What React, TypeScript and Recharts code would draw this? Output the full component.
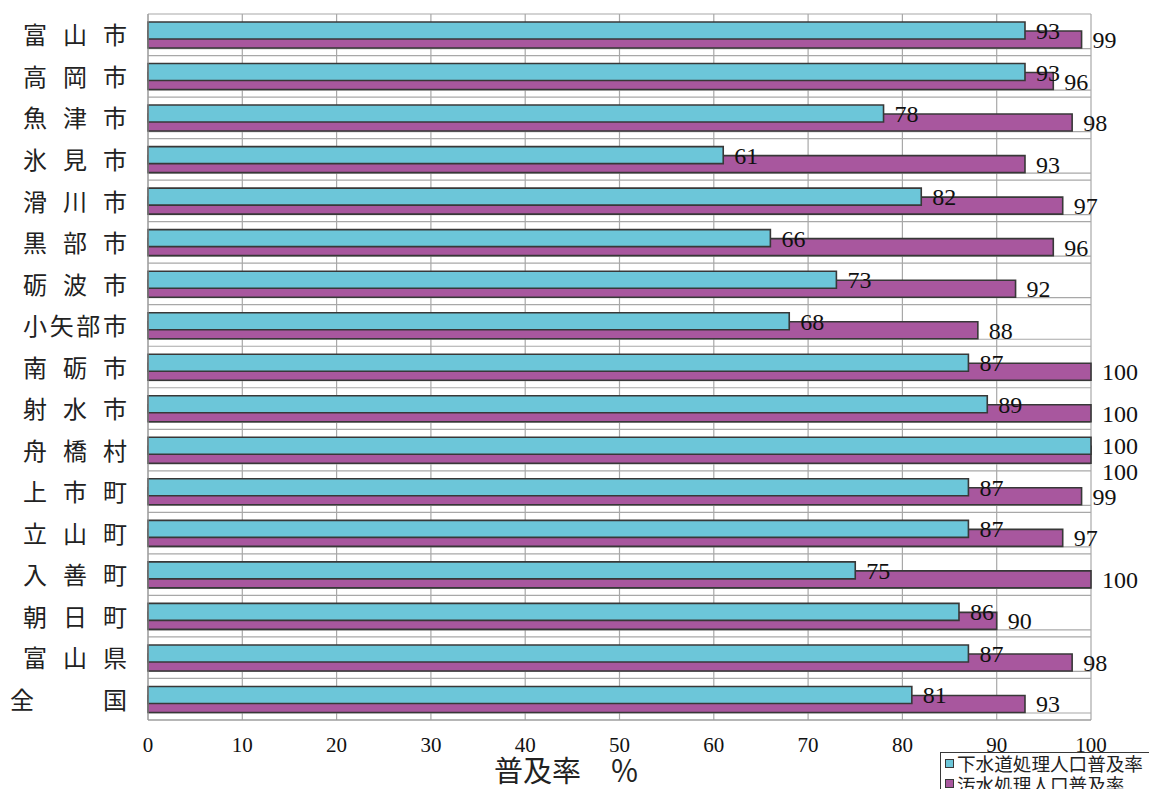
import React from "react";
import { BarChart, Bar, XAxis, YAxis, CartesianGrid, LabelList, Legend } from "recharts";

const categories = [
  "富山市", "高岡市", "魚津市", "氷見市", "滑川市", "黒部市", "砺波市", "小矢部市",
  "南砺市", "射水市", "舟橋村", "上市町", "立山町", "入善町", "朝日町", "富山県", "全国",
];
const sewerRates = [93, 93, 78, 61, 82, 66, 73, 68, 87, 89, 100, 87, 87, 75, 86, 87, 81];
const wastewaterRates = [99, 96, 98, 93, 97, 96, 92, 88, 100, 100, 100, 99, 97, 100, 90, 98, 93];
const xTicks = [0, 10, 20, 30, 40, 50, 60, 70, 80, 90, 100];
const seriesNames = ["下水道処理人口普及率", "汚水処理人口普及率"];
const xAxisTitle = "普及率　％";

const CYAN = "#6cc6d9";
const MAGENTA = "#a8579e";
const EDGE = "#383838";
const JP = "'Noto Sans CJK JP', 'Noto Sans CJK SC', sans-serif";
const SERIF = "'Liberation Serif', 'DejaVu Serif', serif";

const data = categories.map((name, i) => ({
  name,
  sewer: sewerRates[i],
  wastewater: wastewaterRates[i],
}));

const CategoryTick = (props: any) => {
  const { x, y, payload } = props;
  const chars = Array.from(String(payload.value));
  const fs = 24;
  const span = chars.length === 2 ? 117 : 104;
  const step = chars.length > 1 ? (span - fs) / (chars.length - 1) : 0;
  return (
    <text y={y + 1} dy="0.36em" textAnchor="middle" fontSize={fs} fontFamily={JP} fill="#222">
      {chars.map((c, i) => (
        <tspan key={i} x={x - span + fs / 2 + i * step}>
          {c}
        </tspan>
      ))}
    </text>
  );
};

const WastewaterLabel = (props: any) => {
  const { viewBox, value, index } = props;
  if (!viewBox) return null;
  const idx = typeof index === "number" ? index : -1;
  const shift = idx >= 0 && sewerRates[idx] >= value ? 17 : 0;
  return (
    <text
      x={viewBox.x + viewBox.width + 11}
      y={viewBox.y + viewBox.height / 2 + shift}
      dy="0.355em"
      fontSize={24}
      fontFamily={SERIF}
      fill="#111"
    >
      {value}
    </text>
  );
};

const AxisTitle = (props: any) => {
  const vb = props.viewBox || { x: 148, y: 720, width: 943, height: 69 };
  return (
    <text
      x={vb.x + vb.width / 2 - 53}
      y={vb.y + 52}
      dy="0.36em"
      textAnchor="middle"
      fontSize={29}
      fontFamily={JP}
      fill="#222"
    >
      {xAxisTitle}
    </text>
  );
};

const LegendBox = () => {
  const colors = [CYAN, MAGENTA];
  return (
    <div
      style={{
        border: `1px solid ${EDGE}`,
        background: "#fff",
        width: 214,
        height: 48,
        boxSizing: "border-box",
        paddingLeft: 4,
        fontFamily: JP,
        fontSize: 18.6,
        color: "#222",
      }}
    >
      {seriesNames.map((n, i) => (
        <div key={n} style={{ display: "flex", alignItems: "center", height: 20.5, whiteSpace: "nowrap" }}>
          <span
            style={{
              display: "inline-block",
              width: 9,
              height: 9,
              background: colors[i],
              border: `1px solid ${EDGE}`,
              marginRight: 3,
              boxSizing: "border-box",
            }}
          />
          <span style={{ lineHeight: "20px" }}>{n}</span>
        </div>
      ))}
    </div>
  );
};

export default function App() {
  return (
    <div style={{ position: "absolute", left: 0, top: 0, width: 1149, height: 789, overflow: "hidden", background: "#fff" }}>
      <BarChart
        width={1149}
        height={789}
        data={data}
        layout="vertical"
        margin={{ top: 14, right: 58, bottom: 0, left: 0 }}
        barSize={17}
        barGap={-8}
      >
        <CartesianGrid
          stroke="#a8a8a8"
          strokeWidth={1.2}
          horizontalCoordinatesGenerator={(args: any) => {
            const off = args.offset;
            const n = categories.length;
            const step = off.height / n;
            const pts: number[] = [];
            for (let i = 0; i <= n; i++) {
              pts.push(off.top + i * step);
              if (i > 0) pts.push(off.top + i * step - 7);
            }
            return pts;
          }}
        />
        <XAxis
          type="number"
          domain={[0, 100]}
          ticks={xTicks}
          interval={0}
          height={69}
          axisLine={{ stroke: "#999" }}
          tickLine={false}
          tickSize={6}
          tickMargin={11}
          tick={{ fill: "#111", fontSize: 21, fontFamily: SERIF }}
          label={{ content: AxisTitle }}
        />
        <YAxis
          type="category"
          dataKey="name"
          width={148}
          interval={0}
          axisLine={{ stroke: "#999" }}
          tickLine={false}
          tickSize={0}
          tickMargin={21}
          tick={<CategoryTick />}
        />
        <YAxis yAxisId={1} type="category" dataKey="name" hide />
        <Bar
          yAxisId={1}
          dataKey="sewer"
          fill="none"
          stroke="none"
          legendType="none"
          isAnimationActive={false}
        />
        <Bar
          yAxisId={1}
          dataKey="wastewater"
          name={seriesNames[1]}
          fill={MAGENTA}
          stroke={EDGE}
          strokeWidth={1.6}
          isAnimationActive={false}
        >
          <LabelList dataKey="wastewater" content={WastewaterLabel} />
        </Bar>
        <Bar
          dataKey="sewer"
          name={seriesNames[0]}
          fill={CYAN}
          stroke={EDGE}
          strokeWidth={1.6}
          isAnimationActive={false}
        >
          <LabelList
            dataKey="sewer"
            position="right"
            offset={11}
            fill="#111"
            fontSize={24}
            fontFamily={SERIF}
          />
        </Bar>
        <Bar
          dataKey="wastewater"
          fill="none"
          stroke="none"
          legendType="none"
          isAnimationActive={false}
        />
        <Legend
          layout="vertical"
          align="center"
          verticalAlign="middle"
          wrapperStyle={{ left: 940, top: 752, width: 214, height: 48 }}
          content={<LegendBox />}
        />
      </BarChart>
    </div>
  );
}
